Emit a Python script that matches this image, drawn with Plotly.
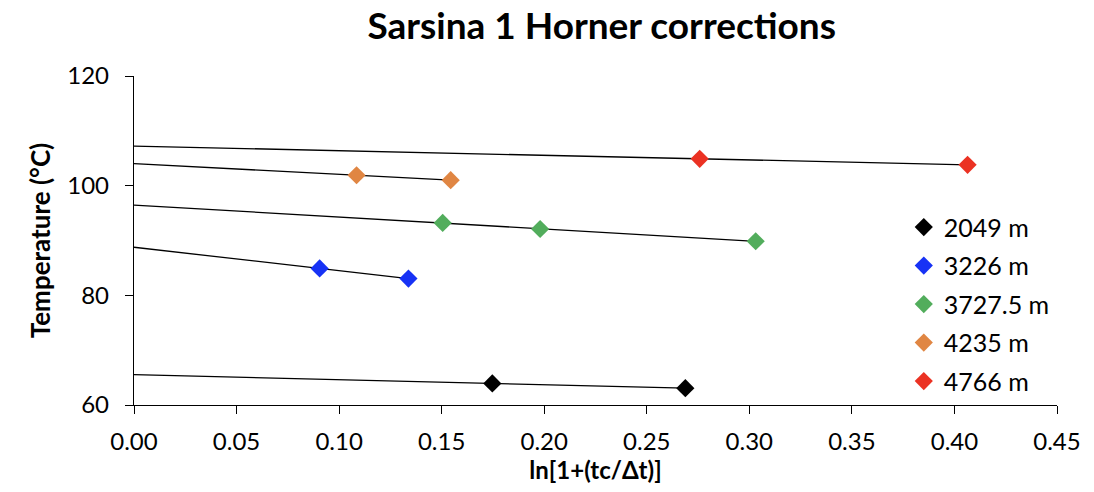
import numpy as np
import plotly.graph_objects as go

depths = ["2049 m", "3226 m", "3727.5 m", "4235 m", "4766 m"]
colors = ["#000000", "#1732F5", "#52AD5C", "#E08643", "#EB3223"]

x_2049 = [0.1747, 0.2688]
y_2049 = [63.93, 63.07]
x_3226 = [0.0905, 0.1338]
y_3226 = [84.9, 83.05]
x_3727 = [0.1505, 0.198, 0.3031]
y_3727 = [93.2, 92.1, 89.86]
x_4235 = [0.1085, 0.1544]
y_4235 = [101.9, 101.0]
x_4766 = [0.2758, 0.4064]
y_4766 = [104.9, 103.8]

series = [(x_2049, y_2049), (x_3226, y_3226), (x_3727, y_3727), (x_4235, y_4235), (x_4766, y_4766)]

fig = go.Figure()

# trend lines extrapolated back to x = 0
for (xs, ys) in series:
    slope, icpt = np.polyfit(xs, ys, 1)
    xl = [0.0, max(xs)]
    yl = [icpt + slope * v for v in xl]
    fig.add_trace(go.Scatter(x=xl, y=yl, mode="lines", line=dict(color="black", width=1.3),
                             showlegend=False, hoverinfo="skip"))

for i, ((xs, ys), name, c) in enumerate(zip(series, depths, colors)):
    fig.add_trace(go.Scatter(x=xs, y=ys, mode="markers", name=name, legendgroup=str(i),
                             marker=dict(symbol="diamond", size=14, color=c)))

font_family = "Lato, 'Open Sans', sans-serif"
fig.update_layout(
    width=1094, height=492,
    margin=dict(l=134, r=37, t=76, b=87),
    plot_bgcolor="white", paper_bgcolor="white",
    font=dict(family=font_family, size=24, color="black"),
    title=dict(text="<b>Sarsina 1 Horner corrections</b>", x=0.55, xanchor="center", y=0.947, yanchor="middle",
               font=dict(size=37, family=font_family, color="black")),
    legend=dict(x=0.834, xanchor="left", y=0.61, yanchor="top", tracegroupgap=3,
                font=dict(size=25), bgcolor="rgba(0,0,0,0)"),
    xaxis=dict(range=[0, 0.45], dtick=0.05, tickformat=".2f", showgrid=False, zeroline=False,
               showline=True, linecolor="black", linewidth=1.3, ticks="outside", ticklen=8,
               tickcolor="black", tickfont=dict(size=24), ticklabelstandoff=7,
               title=dict(text="<b>ln[1+(tc/Δt)]</b>", font=dict(size=24), standoff=7)),
    yaxis=dict(range=[60, 120], dtick=20, showgrid=False, zeroline=False,
               showline=True, linecolor="black", linewidth=1.3, ticks="outside", ticklen=8,
               tickcolor="black", tickfont=dict(size=24), ticklabelstandoff=11,
               title=dict(text="<b>Temperature (°C)</b>", font=dict(size=26), standoff=9)),
)

fig.write_html("out.html")
